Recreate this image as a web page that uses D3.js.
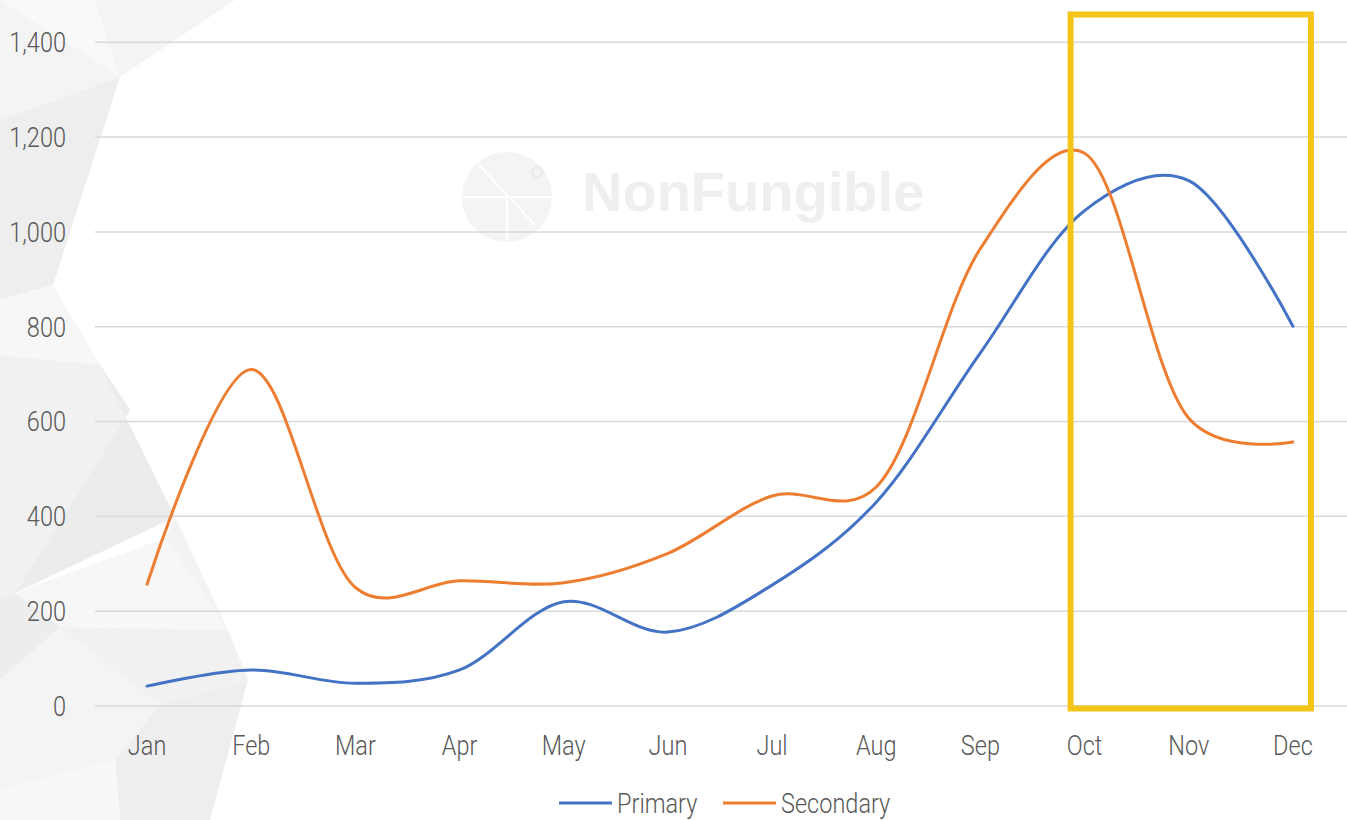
<!DOCTYPE html>
<html>
<head>
<meta charset="utf-8">
<script src="https://cdn.jsdelivr.net/npm/d3@7"></script>
<style>
  html, body { margin: 0; padding: 0; background: #fff; }
  svg text.lbl { font-family: Roboto, 'Liberation Sans', sans-serif; font-weight: 300; }
</style>
</head>
<body>
<svg id="chart" width="1347" height="820"></svg>
<script>
var months = ['Jan','Feb','Mar','Apr','May','Jun','Jul','Aug','Sep','Oct','Nov','Dec']
var primary = [42, 76, 48, 76, 220, 156, 255, 430, 745, 1045, 1108, 801]
var secondary = [257, 710, 250, 264, 260, 322, 443, 462, 965, 1166, 607, 557]
var yTicks = [0, 200, 400, 600, 800, 1000, 1200, 1400]
var seriesNames = ['Primary', 'Secondary']
var seriesColors = ['#4472c4', '#ed7d31']

var svg = d3.select('#chart')
var W = 1347, H = 820
var squeeze = 0.84 // condensed look for the labels

// faint low-poly background on the left
var polys = [
  {p: [[0,0],[235,0],[120,77],[0,120]], c: '#f4f4f4'},
  {p: [[0,0],[95,0],[120,77]], c: '#f9f9f9'},
  {p: [[0,120],[120,77],[53,285],[0,300]], c: '#eeeeee'},
  {p: [[0,300],[53,285],[100,365],[0,355]], c: '#f7f7f7'},
  {p: [[0,355],[100,365],[130,410],[15,593],[0,600]], c: '#f1f1f1'},
  {p: [[100,365],[175,517],[15,593],[130,410]], c: '#ececec'},
  {p: [[15,593],[165,538],[228,630],[60,627]], c: '#f7f7f7'},
  {p: [[175,517],[228,630],[165,538]], c: '#f3f3f3'},
  {p: [[60,627],[228,630],[248,680],[160,705]], c: '#f1f1f1'},
  {p: [[0,600],[15,593],[60,627],[0,680]], c: '#ededed'},
  {p: [[0,680],[60,627],[160,705],[115,760],[0,790]], c: '#f4f4f4'},
  {p: [[115,760],[160,705],[248,680],[210,820],[120,820]], c: '#eeeeee'},
  {p: [[0,790],[115,760],[120,820],[0,820]], c: '#f8f8f8'}
]
svg.append('g').selectAll('polygon').data(polys).enter().append('polygon')
  .attr('points', function(d){ return d.p.map(function(q){ return q.join(',') }).join(' ') })
  .attr('fill', function(d){ return d.c })

// watermark
var wm = svg.append('g').attr('transform', 'translate(507,197)')
wm.append('circle').attr('r', 45).attr('fill', '#f4f4f4')
wm.append('line').attr('x1', -45).attr('y1', 0).attr('x2', 45).attr('y2', 0).attr('stroke', '#fff').attr('stroke-width', 2)
wm.append('line').attr('x1', 0).attr('y1', 0).attr('x2', 0).attr('y2', 45).attr('stroke', '#fff').attr('stroke-width', 2)
wm.append('line').attr('x1', -28).attr('y1', -32).attr('x2', 28).attr('y2', 28).attr('stroke', '#fff').attr('stroke-width', 2)
wm.append('circle').attr('cx', 30).attr('cy', -25).attr('r', 5).attr('fill', 'none').attr('stroke', '#ebebeb').attr('stroke-width', 3)
svg.append('text').attr('x', 582).attr('y', 211)
  .style('font-family', "'Liberation Sans', Arial, sans-serif")
  .attr('font-weight', 'bold').attr('font-size', 56).attr('fill', '#efefef')
  .text('NonFungible')

var x = d3.scalePoint().domain(months).range([95, 1345]).padding(0.5)
var y = d3.scaleLinear().domain([0, 1400]).range([706, 42.3])

function label(g, px, py, anchor, txt){
  return g.append('text').attr('class', 'lbl')
    .attr('transform', 'translate(' + px + ',' + py + ') scale(' + squeeze + ',1)')
    .attr('dy', '0.35em').attr('text-anchor', anchor)
    .attr('font-size', 28).attr('fill', '#595959')
    .text(txt)
}

// gridlines
svg.append('g').selectAll('line').data(yTicks).enter().append('line')
  .attr('x1', 95).attr('x2', W)
  .attr('y1', function(d){ return y(d) }).attr('y2', function(d){ return y(d) })
  .attr('stroke', '#d9d9d9').attr('stroke-width', 1.5)

// y labels
var yl = svg.append('g')
yTicks.forEach(function(d){ label(yl, 66, y(d), 'end', d3.format(',')(d)) })

// x labels
var xl = svg.append('g')
months.forEach(function(m){ label(xl, x(m), 745, 'middle', m) })

var line = d3.line()
  .x(function(d, i){ return x(months[i]) })
  .y(function(d){ return y(d) })
  .curve(d3.curveCatmullRom.alpha(0.2))

;[primary, secondary].forEach(function(s, k){
  svg.append('path').datum(s)
    .attr('d', line)
    .attr('fill', 'none')
    .attr('stroke', seriesColors[k])
    .attr('stroke-width', 3)
    .attr('stroke-linecap', 'round')
})

// highlight box over Oct - Dec
svg.append('rect')
  .attr('x', x('Oct') - 14).attr('y', 14.5)
  .attr('width', x('Dec') + 18 - (x('Oct') - 14))
  .attr('height', y(0) + 2.5 - 14.5)
  .attr('fill', 'none').attr('stroke', '#f2c516').attr('stroke-width', 6)

// legend
var legX = [559, 723]
var leg = svg.append('g')
seriesNames.forEach(function(n, k){
  leg.append('line').attr('x1', legX[k]).attr('x2', legX[k] + 53)
    .attr('y1', 803).attr('y2', 803)
    .attr('stroke', seriesColors[k]).attr('stroke-width', 3)
  label(leg, legX[k] + 58, 803, 'start', n)
})
</script>
</body>
</html>
